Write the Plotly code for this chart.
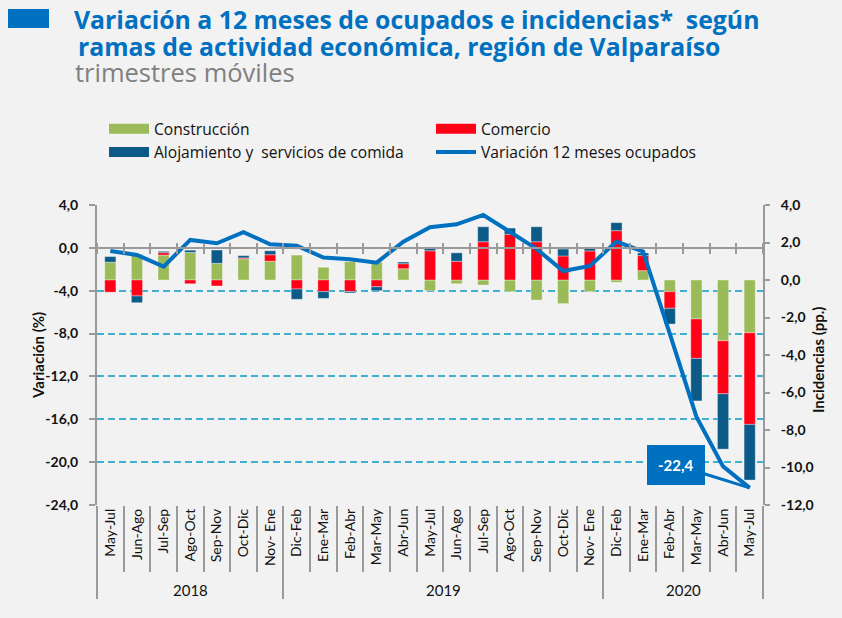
import plotly.graph_objects as go

# ---------------- data ----------------
years = ["2018"] * 7 + ["2019"] * 12 + ["2020"] * 6
periods = ["May-Jul", "Jun-Ago", "Jul-Sep", "Ago-Oct", "Sep-Nov", "Oct-Dic", "Nov- Ene",
           "Dic-Feb", "Ene-Mar", "Feb-Abr", "Mar-May", "Abr-Jun", "May-Jul", "Jun-Ago",
           "Jul-Sep", "Ago-Oct", "Sep-Nov", "Oct-Dic", "Nov- Ene",
           "Dic-Feb", "Ene-Mar", "Feb-Abr", "Mar-May", "Abr-Jun", "May-Jul"]

# incidencias (pp.) - right axis
construccion = [0.95, 1.37, 1.33, 1.47, 0.89, 1.13, 1.00,
                1.33, 0.68, 0.98, 0.95, 0.60, -0.57, -0.20, -0.27, -0.62, -1.07, -1.26, -0.62,
                -0.12, 0.50, -0.62, -2.08, -3.24, -2.81]
comercio = [-0.65, -0.85, 0.13, -0.20, -0.32, 0.05, 0.35,
            -0.48, -0.62, -0.62, -0.36, 0.27, 1.56, 1.00, 2.04, 2.44, 2.04, 1.28, 1.55,
            2.63, 0.80, -0.89, -2.10, -2.83, -4.89]
alojamiento = [0.30, -0.36, 0.07, 0.12, 0.71, 0.12, 0.21,
               -0.55, -0.36, -0.07, -0.21, 0.09, 0.12, 0.45, 0.80, 0.33, 0.80, 0.37, 0.14,
               0.43, 0.14, -0.84, -2.27, -2.95, -2.97]

# variación 12 meses ocupados (%) - left axis
variacion = [-0.29, -0.66, -1.75, 0.74, 0.43, 1.46, 0.34,
             0.21, -0.91, -1.07, -1.38, 0.58, 1.92, 2.20, 3.07, 1.51, -0.10, -2.16, -1.69,
             0.58, -0.35, -8.00, -15.75, -20.40, -22.40]

left_ticks = [4, 0, -4, -8, -12, -16, -20, -24]
right_ticks = [4, 2, 0, -2, -4, -6, -8, -10, -12]


def fmt(v):
    return f"{v:.1f}".replace(".", ",")


# ---------------- style ----------------
FONT = "Lato, 'Open Sans', sans-serif"
FONT_W = "'Open Sans', Lato, sans-serif"
GREEN = "#9BBB59"
RED = "#FF0016"
NAVY = "#0B5A87"
LINE = "#0070C0"
GRID = "#3FB0D0"
AXIS = "#9A9A9A"
BG = "#F2F2F2"

W, H = 842, 618
L, R, T, B = 97, 79, 205, 113
pw, ph = W - L - R, H - T - B


def px_x(x):
    return (x - L) / pw


def px_y(y):
    return (H - B - y) / ph


n = len(periods)
xpos = list(range(n))
bounds = [i - 0.5 for i in range(n + 1)]
year_list = list(dict.fromkeys(years))
year_first = [years.index(y) for y in year_list]
year_last = [n - 1 - years[::-1].index(y) for y in year_list]
year_bounds = [year_first[0] - 0.5] + [e + 0.5 for e in year_last]
year_centers = [(a + b) / 2 for a, b in zip(year_first, year_last)]
zero_pos = (0 - left_ticks[-1]) / (left_ticks[0] - left_ticks[-1])

fig = go.Figure()

for name, vals, col in [("Construcción", construccion, GREEN),
                        ("Comercio", comercio, RED),
                        ("Alojamiento y  servicios de comida", alojamiento, NAVY)]:
    fig.add_trace(go.Bar(x=xpos, y=vals, name=name,
                         marker=dict(color=col, line=dict(width=0.8, color="rgba(255,255,255,0.45)")),
                         showlegend=False, xaxis="x", yaxis="y"))

# legend entries (wide swatches)
for name, col, xa in [("Construcción", GREEN, "x2"),
                      ("Comercio", RED, "x4"),
                      ("Alojamiento y  servicios de comida", NAVY, "x3")]:
    fig.add_trace(go.Scatter(x=[None], y=[None], mode="lines", name=name,
                             line=dict(color=col, width=12), xaxis=xa, yaxis="y",
                             hoverinfo="skip"))

fig.add_trace(go.Scatter(x=xpos, y=variacion, mode="lines", name="Variación 12 meses ocupados",
                         line=dict(color=LINE, width=4), xaxis="x", yaxis="y2"))

tickfont_b = dict(family=FONT, size=14, color="#111111", weight="bold")

fig.update_layout(
    width=W, height=H,
    margin=dict(l=L, r=R, t=T, b=B),
    paper_bgcolor=BG, plot_bgcolor=BG,
    font=dict(family=FONT, color="#111111"),
    barmode="relative", bargap=0.58,
    showlegend=True,
    legend=dict(orientation="h", x=px_x(104), y=px_y(112), xanchor="left", yanchor="top",
                entrywidth=272, entrywidthmode="pixels", bgcolor="rgba(0,0,0,0)",
                font=dict(family=FONT_W, size=15.6, color="#111111"), tracegroupgap=0,
                itemwidth=40),
    xaxis=dict(type="linear", range=[-0.5, n - 0.5], tickmode="array", tickvals=xpos,
               ticktext=periods, tickangle=-90, ticks="", showgrid=False, zeroline=False,
               showline=False, tickfont=dict(family=FONT, size=14, color="#111111"),
               anchor="y"),
    xaxis3=dict(type="linear", range=[-0.5, n - 0.5], overlaying="x", anchor="y",
                tickmode="array", tickvals=year_bounds, ticks="outside", ticklen=93,
                tickwidth=2, tickcolor=AXIS,
                minor=dict(tickmode="array", tickvals=bounds, ticks="outside", ticklen=66,
                           tickwidth=2, tickcolor=AXIS, showgrid=False),
                showticklabels=False, showgrid=False, zeroline=False, showline=False),
    xaxis2=dict(type="linear", range=[-0.5, n - 0.5], overlaying="x", anchor="free",
                position=zero_pos, side="bottom",
                tickmode="array", tickvals=bounds, ticks="outside", ticklen=5, tickwidth=2,
                tickcolor=AXIS, showticklabels=False, showgrid=False, zeroline=False,
                showline=True, linecolor=AXIS, linewidth=2),
    xaxis4=dict(type="linear", range=[-0.5, n - 0.5], overlaying="x", anchor="free",
                position=zero_pos, side="top",
                tickmode="array", tickvals=bounds, ticks="outside", ticklen=5, tickwidth=2,
                tickcolor=AXIS, showticklabels=False, showgrid=False, zeroline=False,
                showline=False),
    yaxis=dict(side="right", range=[right_ticks[-1], right_ticks[0]], tickmode="array",
               tickvals=right_ticks, ticktext=[fmt(v) for v in right_ticks],
               showgrid=False, zeroline=False, showline=True, linecolor=AXIS, linewidth=2,
               ticks="outside", ticklen=5, tickwidth=2, tickcolor=AXIS, tickfont=tickfont_b,
               ticklabelstandoff=8),
    yaxis2=dict(side="left", overlaying="y", range=[left_ticks[-1], left_ticks[0]],
                tickmode="array", tickvals=left_ticks, ticktext=[fmt(v) for v in left_ticks],
                showgrid=True, gridcolor=GRID, griddash="7px,4px", gridwidth=1.5,
                zeroline=False, showline=True, linecolor=AXIS, linewidth=2,
                ticks="outside", ticklen=6, tickwidth=2, tickcolor=AXIS, tickfont=tickfont_b,
                ticklabelstandoff=8),
)

# year labels under the period labels
for yr, c in zip(year_list, year_centers):
    fig.add_annotation(text=yr, x=c, xref="x", y=px_y(590), yref="paper", showarrow=False,
                       xanchor="center", yanchor="middle",
                       font=dict(family=FONT, size=15, color="#111111"))

# titles
fig.add_shape(type="rect", xref="paper", yref="paper", x0=px_x(8), x1=px_x(49),
              y0=px_y(28), y1=px_y(9), fillcolor=LINE, line=dict(width=0), layer="above")
fig.add_annotation(text="Variación a 12 meses de ocupados e incidencias*  según",
                   xref="paper", yref="paper", x=px_x(72), y=px_y(19), xanchor="left",
                   yanchor="middle", showarrow=False,
                   font=dict(family=FONT_W, size=24.8, color=LINE, weight="bold"))
fig.add_annotation(text="ramas de actividad económica, región de Valparaíso",
                   xref="paper", yref="paper", x=px_x(76), y=px_y(46), xanchor="left",
                   yanchor="middle", showarrow=False,
                   font=dict(family=FONT_W, size=24.8, color=LINE, weight="bold"))
fig.add_annotation(text="trimestres móviles",
                   xref="paper", yref="paper", x=px_x(73), y=px_y(72), xanchor="left",
                   yanchor="middle", showarrow=False,
                   font=dict(family=FONT_W, size=25.5, color="#808080"))

# axis titles
fig.add_annotation(text="Variación (%)", xref="paper", yref="paper", x=px_x(38), y=px_y(356),
                   textangle=-90, showarrow=False, xanchor="center", yanchor="middle",
                   font=dict(family=FONT, size=15, color="#111111", weight="bold"))
fig.add_annotation(text="Incidencias (pp.)", xref="paper", yref="paper", x=px_x(818),
                   y=px_y(360), textangle=-90, showarrow=False, xanchor="center",
                   yanchor="middle",
                   font=dict(family=FONT, size=15, color="#111111", weight="bold"))

# callout for last value
fig.add_annotation(x=xpos[-1], y=variacion[-1], xref="x", yref="y2", text=fmt(variacion[-1]),
                   showarrow=True, arrowhead=0, arrowwidth=3, arrowcolor=LINE,
                   ax=-74, ay=-23, bgcolor=LINE, bordercolor=LINE, borderpad=10,
                   font=dict(family=FONT, size=15, color="white", weight="bold"))

fig.write_html("out.html", config={"displayModeBar": False},
               post_script="document.body.style.margin='0';"
                           "document.body.style.background='#F2F2F2';")
